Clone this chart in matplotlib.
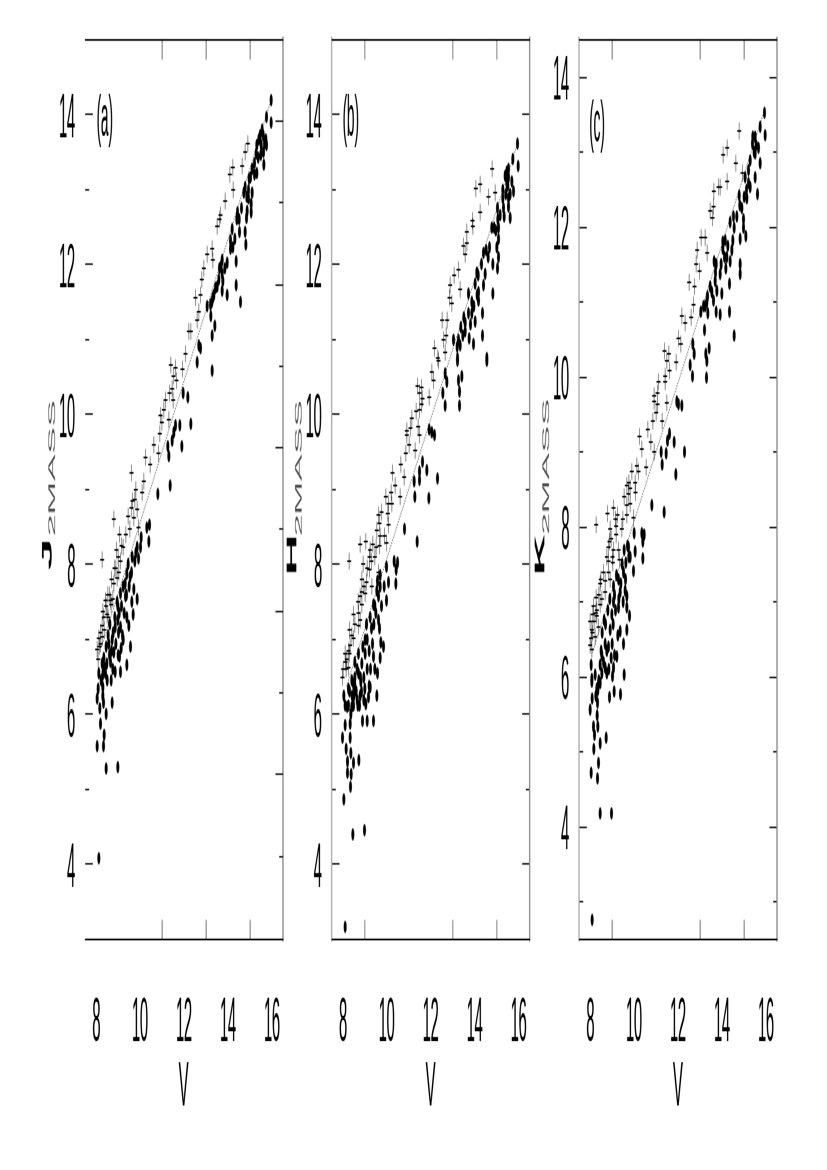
import matplotlib
matplotlib.use("Agg")
import matplotlib.pyplot as plt
from PIL import Image

plt.rcParams["font.family"] = ["Liberation Sans", "DejaVu Sans"]

# panel (a) J
v_a_dots = [15.95,15.74,15.95,15.46,15.59,15.71,15.39,15.74,15.28,15.37,15.49,15.62,15.19,15.09,15.31,15.01,14.78,14.93,15.09,14.71,15.04,14.93,14.43,14.86,14.83,15.04,14.4,14.18,14.52,14.78,14.81,14.1,14.1,14.21,14.37,13.72,13.95,13.68,13.72,14.36,13.57,13.42,13.72,13.95,13.31,13.19,14.56,13.04,13.21,13.39,13.27,12.66,12.74,12.59,13.28,11.95,12.16,12.31,11.6,11.8,
            11.53,11.45,11.9,11.25,11.3,11.37,10.8,10.43,10.31,10.39,10.04,10.01,9.86,9.93,9.63,9.4,9.55,9.71,9.86,9.33,9.1,9.22,8.98,9.4,9.68,9.48,8.98,8.87,9.1,8.72,8.57,9.22,9.13,9.56,8.8,9.06,8.49,8.65,9.4,8.87,9.1,8.12,8.31,8.27,8.09,8.31,8.04,8.72,8.34,8.16,8.46,8.19,8.37,8.04,8.34,8.46,8.98,8.12,
            8.35,8.45,8.55,8.62,8.7,8.78,8.85,8.95,9.02,9.05,9.15,9.2,9.28,9.32,9.38,9.45,9.5,9.6,9.62,9.75,9.8,8.42,8.5,8.38,8.9,9.0,8.75,8.6,8.68,8.22,8.3,
            15.5,15.55,15.65,15.6,15.3,15.2,14.95,14.85,14.6,14.5,14.3,13.85,13.6,13.5,13.35,13.25,13.75]
y_a_dots = [14.19,13.97,13.9,13.73,13.72,13.67,13.67,13.6,13.49,13.42,13.47,13.33,13.36,13.27,13.22,13.16,13.04,13.0,12.96,12.96,12.82,12.89,12.69,12.71,12.62,12.69,12.6,12.47,12.44,12.44,12.27,12.33,12.22,12.24,12.04,12.07,12.02,11.98,11.87,11.73,11.8,11.69,11.66,11.6,11.55,11.46,11.51,11.44,11.31,11.18,11.06,10.93,10.89,10.69,10.59,10.29,10.24,9.88,9.86,9.86,
            9.77,9.66,9.57,9.57,9.44,9.06,8.95,8.53,8.5,8.3,8.37,8.24,8.24,8.08,8.1,7.88,7.84,7.68,7.55,7.57,7.62,7.7,7.44,7.3,7.33,7.19,7.26,7.17,7.17,6.99,6.95,6.99,6.88,6.9,6.84,6.77,6.68,6.7,6.66,6.57,6.56,6.55,6.53,6.68,6.35,6.37,6.21,6.15,6.15,6.08,6.01,5.88,5.72,5.57,5.57,5.28,5.3,4.08,
            6.75,6.9,7.05,7.2,6.85,7.1,7.3,7.5,7.1,7.35,7.45,7.05,7.35,7.75,7.6,8.0,7.7,7.9,7.5,8.05,8.15,6.55,6.45,6.62,6.95,6.8,6.6,6.8,6.45,6.45,6.25,
            13.6,13.8,13.62,13.5,13.6,13.2,13.15,12.9,12.75,12.6,12.35,11.95,11.95,11.7,11.6,11.5,11.78]
v_a_plus = [14.89,14.78,14.21,14.07,14.63,14.22,13.87,13.65,13.5,13.6,13.27,13.04,13.31,12.89,12.81,12.74,12.51,12.66,12.59,12.21,12.31,12.06,11.93,11.4,11.6,11.52,11.65,11.15,11.45,11.5,11.34,11.07,10.92,11.3,10.99,
            10.89,10.62,10.84,10.24,10.46,9.6,10.16,10.09,9.75,9.6,9.86,8.8,9.71,9.53,9.93,9.06,9.22,8.92,8.27,9.1,8.84,9.03,8.8,8.53,8.42,8.68,8.3,8.5,8.27,8.37,8.12,8.27,8.04,8.09,8.19,8.65,8.95,
            8.2,8.35,8.45,8.6,8.7,8.9,9.0,9.15,9.35,9.45,9.65,9.8,8.15,8.55,8.75]
y_a_plus = [13.62,13.51,13.29,13.2,13.31,12.99,12.84,12.67,12.51,12.6,12.22,12.13,12.07,11.95,11.8,11.6,11.55,11.38,11.26,11.11,11.11,10.82,10.61,10.66,10.62,10.51,10.45,10.2,10.35,10.2,10.29,10.06,9.99,9.93,9.89,
            9.75,9.6,9.49,9.42,9.33,9.23,9.11,8.97,8.86,8.76,8.73,8.61,8.62,8.48,8.5,8.4,8.24,8.19,8.07,8.04,7.96,7.9,7.75,7.59,7.52,7.46,7.37,7.33,7.19,7.13,7.02,7.04,6.86,6.73,6.95,7.53,7.82,
            7.1,7.3,7.45,7.6,7.8,7.95,8.1,8.25,8.4,8.65,8.85,9.0,6.9,7.3,7.55]
v_a_fit = [8.26, 15.9]
y_a_fit = [6.9, 14.13]

# panel (b) H
v_b_dots = [15.94,15.73,15.97,15.53,15.38,15.53,15.68,15.27,15.45,15.76,15.53,15.27,15.03,15.53,15.15,15.33,15.61,14.77,14.88,15.08,15.08,14.67,15.0,14.39,14.52,15.08,14.82,15.03,14.09,14.47,14.82,14.02,14.39,14.17,13.71,14.17,13.86,14.35,13.71,13.86,14.02,13.56,13.36,13.56,14.35,13.03,13.26,13.74,13.94,13.33,14.55,13.21,
            14.54,13.21,12.65,12.72,13.25,13.4,13.3,12.54,13.3,12.65,11.93,12.04,12.16,11.62,11.81,11.48,11.48,11.24,12.3,11.27,11.9,10.8,11.37,10.33,10.48,10.42,9.99,10.4,10.07,9.87,9.57,9.69,9.99,9.62,9.39,9.24,9.62,9.66,9.08,9.01,9.72,9.84,9.39,9.69,9.01,8.71,8.86,9.46,9.57,8.55,8.71,9.19,8.48,
            8.55,8.81,9.24,8.25,8.05,8.43,8.78,9.54,9.16,8.1,8.25,8.48,8.68,9.05,8.36,8.89,9.1,9.39,8.1,8.33,7.99,8.33,8.15,8.36,8.21,8.72,8.48,8.21,8.37,8.34,8.05,8.45,8.98,8.1,
            8.3,8.4,8.5,8.6,8.65,8.75,8.55,8.65,8.8,8.9,8.95,9.0,9.1,9.1,9.2,9.3,9.35,9.4,9.45,9.5,9.55,9.7,9.75,8.2,8.4,8.85,8.95,9.25,
            15.45,15.5,15.4,15.6,15.3,15.05,14.95,14.6,14.3,14.15,14.1,13.95,13.8,13.5,13.45,13.2]
y_b_dots = [13.61,13.41,13.31,13.27,13.18,13.16,13.11,13.0,13.09,12.98,12.89,12.89,12.76,12.78,12.66,12.64,12.62,12.5,12.5,12.49,12.35,12.24,12.24,12.16,12.2,12.11,12.0,11.95,11.89,11.87,11.62,11.75,11.73,11.64,11.62,11.53,11.51,11.36,11.35,11.35,11.24,11.22,11.17,11.11,11.06,11.0,11.0,11.02,10.95,10.93,10.75,10.75,
            10.72,10.71,10.55,10.43,10.46,10.51,10.31,10.29,10.12,10.12,9.8,9.76,9.73,9.37,9.26,9.24,9.13,9.11,9.15,8.9,8.88,8.47,8.3,8.04,8.02,7.93,7.97,7.74,7.77,7.7,7.79,7.7,7.53,7.57,7.46,7.3,7.26,7.15,7.21,6.99,6.97,6.9,6.77,6.75,6.81,6.81,6.68,6.61,6.55,6.5,6.55,6.39,6.41,
            6.39,6.44,6.37,6.35,6.26,6.26,6.26,6.26,6.24,6.12,6.12,6.12,6.12,6.14,6.01,5.91,5.91,5.91,5.85,5.88,5.69,5.7,5.55,5.49,5.37,5.4,5.35,5.23,5.21,5.04,4.86,4.4,4.45,3.16,
            6.3,6.45,6.25,6.3,6.2,6.12,6.7,6.6,6.5,6.9,6.5,6.35,6.6,7.0,6.85,7.15,6.95,7.2,7.45,7.35,7.65,7.85,7.45,6.1,6.1,6.3,6.2,6.6,
            13.25,13.05,12.95,12.95,12.75,12.6,12.45,12.1,12.0,11.85,11.6,11.45,11.2,11.3,11.05,10.9]
v_b_plus = [14.79,14.24,14.05,14.62,14.92,14.24,13.89,13.91,13.64,13.64,13.49,13.56,13.26,13.06,12.88,13.33,12.85,12.95,12.52,12.74,12.7,12.58,12.17,12.65,12.32,
            12.34,12.04,12.12,11.39,11.58,11.92,11.48,11.62,11.58,11.48,11.33,11.13,11.43,11.08,10.9,10.9,11.48,11.01,11.28,10.86,10.63,10.25,10.78,10.37,10.19,10.6,10.07,10.22,9.62,10.04,9.66,10.07,9.69,9.89,9.05,8.78,9.36,9.66,9.99,9.24,9.51,9.21,9.46,8.28,8.93,9.21,9.62,8.86,9.08,8.86,9.31,9.01,8.78,8.86,8.48,8.71,8.78,8.71,8.3,8.48,8.33,8.1,8.3,8.18,8.02,8.15,7.99,8.25,
            8.12,8.25,8.4,8.55,8.7,8.95,9.1,9.3,9.55,9.75,9.95]
y_b_plus = [13.27,13.08,13.01,12.91,12.96,12.69,12.58,12.51,12.44,12.28,12.25,12.14,11.93,11.85,11.73,11.67,11.55,11.49,11.26,11.26,11.06,11.0,10.88,10.83,10.75,
            10.71,10.57,10.46,10.38,10.37,10.24,10.29,10.22,10.13,10.06,10.04,9.95,9.84,9.83,9.79,9.72,9.72,9.6,9.53,9.49,9.34,9.23,9.16,9.05,8.96,8.9,8.82,8.81,8.66,8.68,8.55,8.54,8.39,8.39,8.3,8.27,8.27,8.26,8.28,8.2,8.23,8.11,8.11,8.05,8.01,7.93,7.9,7.81,7.77,7.64,7.7,7.61,7.58,7.46,7.33,7.35,7.26,7.19,7.13,7.01,6.92,6.81,6.81,6.73,6.61,6.61,6.49,6.63,
            6.7,6.85,7.05,7.2,7.5,7.7,7.95,8.05,8.45,8.7,8.9]
v_b_fit = [8.18, 15.94]
y_b_fit = [6.37, 13.6]

# panel (c) K
v_c_dots = [15.92,15.73,15.95,15.5,15.38,15.54,15.65,15.27,15.73,15.5,15.2,15.05,15.5,15.27,15.6,14.77,15.0,15.12,14.51,14.67,14.36,14.97,14.97,15.07,14.82,14.48,14.14,14.03,14.03,14.44,14.21,14.36,13.64,14.82,14.17,13.73,14.82,13.91,13.68,14.33,13.53,13.76,13.98,13.33,13.6,13.03,13.23,13.35,13.73,13.91,14.33,13.2,14.55,12.67,12.73,13.41,13.26,
            13.3,12.54,12.65,13.29,11.94,12.01,12.16,11.6,11.51,11.82,12.29,11.22,11.45,11.27,11.89,10.8,11.36,10.0,10.35,10.45,10.39,9.74,10.04,9.54,9.82,10.39,9.62,9.97,9.51,9.29,9.06,9.36,9.59,9.66,9.06,9.29,9.66,8.98,9.79,8.63,8.91,9.36,9.66,8.68,9.51,8.83,8.53,9.21,8.45,8.04,8.68,9.06,8.53,8.22,9.54,8.07,9.01,8.38,8.3,
            8.45,8.07,8.35,8.09,8.88,9.09,9.38,8.0,8.33,8.32,8.15,8.35,8.19,8.72,8.45,8.16,8.38,8.04,8.33,8.45,8.97,8.09,
            8.4,8.5,8.55,8.6,8.7,8.75,8.8,8.85,8.9,9.0,9.05,9.1,9.15,9.2,9.25,9.3,9.4,9.45,9.5,9.6,9.7,9.75,8.25,8.75,9.1,8.95,
            15.45,15.4,15.2,15.1,14.8,14.55,14.9,14.25,14.1,13.95,13.7,13.45,13.3,13.15]
y_c_dots = [13.52,13.34,13.22,13.2,13.11,13.09,13.05,12.89,12.85,12.98,12.76,12.67,12.67,12.53,12.44,12.42,12.4,12.38,12.15,12.15,12.07,12.11,12.0,11.89,11.84,11.82,11.83,11.8,11.71,11.69,11.6,11.55,11.55,11.51,11.46,11.51,11.37,11.37,11.29,11.24,11.13,11.15,11.11,11.08,11.03,10.87,10.95,10.86,10.88,10.83,10.87,10.63,10.56,10.44,10.32,10.39,10.32,
            10.22,10.16,10.02,9.99,9.68,9.64,9.62,9.24,9.15,9.14,9.0,9.0,8.98,8.84,8.71,8.29,8.2,7.92,7.92,7.9,7.81,7.74,7.68,7.7,7.61,7.59,7.52,7.41,7.39,7.3,7.21,7.14,7.16,7.08,7.01,6.92,6.92,6.83,6.81,6.76,6.63,6.61,6.63,6.45,6.45,6.41,6.3,6.28,6.16,6.16,6.12,6.12,6.05,6.03,6.03,5.98,6.01,5.92,5.85,
            5.92,5.94,5.83,5.71,5.74,5.8,5.77,5.57,5.65,5.49,5.34,5.34,5.22,5.19,5.12,5.05,4.85,4.72,4.64,4.19,4.19,2.76,
            5.95,6.35,6.6,6.2,6.7,6.35,6.9,6.1,7.05,6.45,6.7,7.1,6.9,7.35,6.55,7.05,7.25,7.5,7.0,7.3,7.75,7.6,5.75,6.05,6.3,6.25,
            13.0,13.2,12.6,12.5,12.3,12.0,12.25,11.75,11.6,11.5,11.4,11.2,11.0,10.95]
v_c_plus = [14.77,14.23,14.05,14.62,14.92,14.23,13.62,13.83,13.91,13.45,13.6,13.56,13.04,13.23,12.86,13.32,12.82,12.97,12.5,12.74,12.7,12.59,12.17,12.32,12.01,12.12,11.38,11.57,
            11.48,11.91,11.6,11.41,11.1,11.41,11.06,10.91,11.48,10.91,11.06,11.0,11.27,10.85,10.62,10.24,10.76,10.35,10.91,10.12,10.54,10.19,10.04,9.66,9.82,10.06,9.74,9.82,9.66,9.06,8.79,9.24,9.66,9.48,9.97,8.27,9.18,8.91,9.44,9.18,8.88,8.83,9.29,9.06,9.01,9.33,8.83,9.03,8.83,8.48,8.68,8.45,8.91,8.68,8.27,8.53,8.45,8.3,8.12,8.3,8.0,8.18,8.38,8.07,8.22,8.04,8.0,8.07,
            8.1,8.15,8.25,8.4,8.6,8.75,8.95,9.15,9.55,9.75,9.9]
y_c_plus = [13.28,13.06,12.97,12.85,12.73,12.61,12.48,12.53,12.53,12.21,12.27,12.12,11.87,11.87,11.69,11.66,11.5,11.42,11.26,11.2,10.97,10.8,10.81,10.72,10.51,10.44,10.34,10.31,
            10.22,10.2,10.08,10.02,9.93,9.93,9.79,9.75,9.66,9.67,9.63,9.53,9.42,9.41,9.3,9.2,9.13,9.04,9.0,8.81,8.8,8.75,8.59,8.55,8.52,8.47,8.44,8.32,8.3,8.26,8.18,8.17,8.17,8.1,8.12,8.03,8.01,7.98,7.97,7.9,7.8,7.74,7.7,7.7,7.61,7.57,7.54,7.52,7.39,7.3,7.28,7.25,7.3,7.14,7.06,7.05,6.96,6.9,6.83,6.81,6.74,6.74,6.67,6.63,6.54,6.52,6.43,6.36,
            6.6,6.95,6.85,7.1,7.4,7.6,7.85,8.1,8.4,8.6,8.75]
v_c_fit = [8.08, 15.92]
y_c_fit = [6.29, 13.54]

W, H = 827, 1170
STRETCH = 4.2  # the whole sheet is squeezed sideways like the scan

fig = plt.figure(figsize=(8.27, H / STRETCH / 100), dpi=300)

def draw_panel(left, ylim, v_dots, y_dots, v_plus, y_plus, v_fit, y_fit, xshow, xminor, ymajor, yminor, tick_col):
    ax = fig.add_axes([left / W, 1 - 939 / H, 198 / W, 899 / H])
    ax.plot(v_fit, y_fit, color="black", lw=0.3, ls=(0, (1, 1.5)))
    ax.plot(v_plus, y_plus, ls="none", marker="+", ms=2.9, mew=0.3, color="black")
    ax.plot(v_dots, y_dots, ls="none", marker="o", ms=2.1, mew=0, color="black")
    ax.set_xlim(7.5, 16.5)
    ax.set_ylim(*ylim)
    ax.set_xticks([8, 10, 12, 14, 16])
    ax.set_xticks(xminor, minor=True)
    ax.set_yticks(ymajor)
    ax.set_yticks(yminor, minor=True)
    ax.tick_params(axis="x", which="both", direction="in", top=True, color=tick_col, width=0.7, labelsize=10.7, pad=9.6)
    ax.tick_params(axis="x", which="major", length=6.35)
    ax.tick_params(axis="x", which="minor", length=3.26)
    ax.tick_params(axis="y", which="both", direction="in", right=True, color="#222222", width=0.3, labelsize=10.7, pad=7)
    ax.tick_params(axis="y", which="major", length=5.5)
    ax.tick_params(axis="y", which="minor", length=2.9)
    # some of the V ticks are lost on the sheet
    for t in ax.xaxis.get_major_ticks():
        if t.get_loc() not in xshow:
            t.tick1line.set_visible(False)
            t.tick2line.set_visible(False)
    ax.spines["top"].set_linewidth(0.3)
    ax.spines["bottom"].set_linewidth(0.3)
    ax.spines["left"].set_linewidth(0.9)
    ax.spines["right"].set_linewidth(0.9)
    ax.spines["left"].set_color("#aaaaaa")
    ax.spines["right"].set_color("#888888")
    return ax

ax_a = draw_panel(85, (3, 15), v_a_dots, y_a_dots, v_a_plus, y_a_plus, v_a_fit, y_a_fit,
                  [10, 12, 16], [11, 13, 15], [4, 6, 8, 10, 12, 14], [5, 7, 9, 11, 13], "#777777")
ax_b = draw_panel(331.7, (3, 15), v_b_dots, y_b_dots, v_b_plus, y_b_plus, v_b_fit, y_b_fit,
                  [8, 10, 12, 16], [9, 13, 15], [4, 6, 8, 10, 12, 14], [5, 7, 9, 11, 13], "#888888")
ax_c = draw_panel(579, (2.5, 14.5), v_c_dots, y_c_dots, v_c_plus, y_c_plus, v_c_fit, y_c_fit,
                  [10, 14, 16], [9, 13, 15], [4, 6, 8, 10, 12, 14], [3, 5, 7, 9, 11, 13], "#777777")

# panel a has no left line and its right ticks run on their own scale
ax_a.spines["left"].set_visible(False)
ax_a.tick_params(axis="y", which="both", right=False)
ax_a2 = ax_a.twinx()
ax_a2.set_ylim(3.98, 15.0)
ax_a2.set_yticks([6, 8, 10, 12, 14])
ax_a2.set_yticks([5, 7, 9, 11, 13], minor=True)
ax_a2.tick_params(axis="y", which="both", direction="in", color="#222222", width=0.3, labelright=False)
ax_a2.tick_params(axis="y", which="major", length=5.5)
ax_a2.tick_params(axis="y", which="minor", length=2.9)
for s in ax_a2.spines.values():
    s.set_visible(False)

def put_text(x, y, s, **kw):
    fig.text(x / W, 1 - y / H, s, ha="center", va="center", **kw)

put_text(105, 121, "(a)", fontsize=9.8)
put_text(351, 120, "(b)", fontsize=9.8)
put_text(597, 126, "(c)", fontsize=9.8)

for x0 in [183.5, 430.5, 678]:
    put_text(x0, 1089, "V", fontsize=10.7)

put_text(48, 552, "J", fontsize=10, rotation=90, fontweight="bold")
put_text(52, 465, "2MASS", fontsize=7, rotation=90, color="#555555")
put_text(292, 550, "H", fontsize=10, rotation=90, fontweight="bold")
put_text(299, 465, "2MASS", fontsize=7, rotation=90, color="#555555")
put_text(540, 550, "K", fontsize=10, rotation=90, fontweight="bold")
put_text(546, 463, "2MASS", fontsize=7, rotation=90, color="#555555")

fig.savefig("out.png", dpi=300)

# stretch to the final sheet size, this is what gives the tall narrow glyphs
im = Image.open("out.png").convert("RGB")
im.resize((W, H), Image.BICUBIC).save("out.png")
